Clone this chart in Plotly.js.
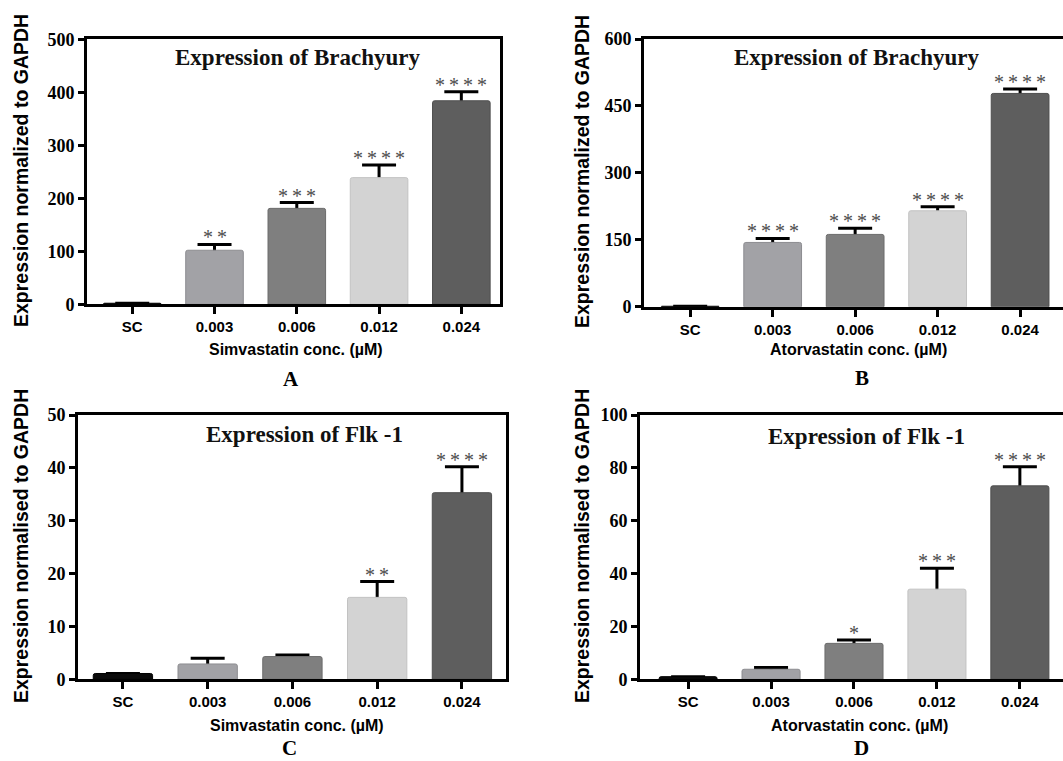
<!DOCTYPE html>
<html>
<head>
<meta charset="utf-8">
<script src="https://cdn.plot.ly/plotly-3.0.1.min.js"></script>
<style>html,body{margin:0;padding:0;background:#fff;}#chart{width:1063px;height:761px;}</style>
</head>
<body>
<div id="chart"></div>
<script>
// ---- data ----
const categories = ['SC', '0.003', '0.006', '0.012', '0.024'];

const simBrachyMean = [2, 102, 181, 239, 384];
const simBrachyErr  = [0, 11, 11, 24, 17];
const simBrachyStars = ['', '**', '***', '****', '****'];

const atorBrachyMean = [1, 144, 162, 215, 478];
const atorBrachyErr  = [0, 9, 14, 9, 10];
const atorBrachyStars = ['', '****', '****', '****', '****'];

const simFlkMean = [1.1, 2.9, 4.3, 15.5, 35.3];
const simFlkErr  = [0, 1.1, 0.3, 3.0, 4.9];
const simFlkStars = ['', '', '', '**', '****'];

const atorFlkMean = [1.0, 3.8, 13.6, 34.1, 73.2];
const atorFlkErr  = [0, 0.7, 1.3, 7.9, 7.2];
const atorFlkStars = ['', '', '*', '***', '****'];

const yTicksA = [0, 100, 200, 300, 400, 500];
const yTicksB = [0, 150, 300, 450, 600];
const yTicksC = [0, 10, 20, 30, 40, 50];
const yTicksD = [0, 20, 40, 60, 80, 100];

// ---- styles ----
const barColors = ['#0a0a0a', '#a2a2a6', '#7f7f7f', '#d3d3d3', '#5e5e5e'];
const barLines  = ['#000000', '#8c8c90', '#6c6c6c', '#c2c2c2', '#4e4e4e'];
const W = 1063, H = 761;
const serif = 'Liberation Serif';
const sans = 'Liberation Sans';

const panels = [
  {mean: simBrachyMean, err: simBrachyErr, stars: simBrachyStars, yticks: yTicksA,
   xpx: [87, 500], ypx: [39.3, 304.3], xr: [-0.55, 4.47], mirrorY: true,
   title: 'Expression of Brachyury', tpos: [297, 57],
   ytitle: 'Expression normalized to GAPDH', ytpos: [21, 171],
   xtitle: 'Simvastatin conc. (µM)', xtpos: [296, 350], letter: 'A', lpos: [291, 379]},
  {mean: atorBrachyMean, err: atorBrachyErr, stars: atorBrachyStars, yticks: yTicksB,
   xpx: [644, 1063], ypx: [39, 306.7], xr: [-0.56, 4.52], mirrorY: false,
   title: 'Expression of Brachyury', tpos: [856, 57],
   ytitle: 'Expression normalized to GAPDH', ytpos: [582, 172],
   xtitle: 'Atorvastatin conc. (µM)', xtpos: [858, 350], letter: 'B', lpos: [862, 378]},
  {mean: simFlkMean, err: simFlkErr, stars: simFlkStars, yticks: yTicksC,
   xpx: [78, 506], ypx: [415, 679.3], xr: [-0.53, 4.52], mirrorY: true,
   title: 'Expression of Flk -1', tpos: [304, 434],
   ytitle: 'Expression normalised to GAPDH', ytpos: [21, 546],
   xtitle: 'Simvastatin conc. (µM)', xtpos: [297, 725], letter: 'C', lpos: [289, 748]},
  {mean: atorFlkMean, err: atorFlkErr, stars: atorFlkStars, yticks: yTicksD,
   xpx: [640, 1063], ypx: [415, 679.3], xr: [-0.58, 4.52], mirrorY: false,
   title: 'Expression of Flk -1', tpos: [866, 436],
   ytitle: 'Expression normalised to GAPDH', ytpos: [582, 546],
   xtitle: 'Atorvastatin conc. (µM)', xtpos: [859, 725], letter: 'D', lpos: [861, 748]}
];

const idx = categories.map((c, i) => i);
const traces = [];
const annotations = [];
const layout = {
  width: W, height: H,
  margin: {l: 0, r: 0, t: 0, b: 0},
  paper_bgcolor: '#fff', plot_bgcolor: '#fff',
  showlegend: false, barmode: 'overlay',
  annotations: annotations
};

function px2x(p) { return p / W; }
function px2y(p) { return 1 - p / H; }

panels.forEach((p, k) => {
  const n = k === 0 ? '' : String(k + 1);
  const xa = 'x' + n, ya = 'y' + n;
  // error bars drawn beneath the visible bars, so only the upper half shows
  traces.push({
    type: 'bar', x: idx, y: p.mean, xaxis: xa, yaxis: ya, width: 0.7,
    marker: {color: 'rgba(0,0,0,0)', line: {width: 0}},
    error_y: {type: 'data', array: p.err, visible: true, color: '#000', thickness: 3, width: 17},
    hoverinfo: 'skip'
  });
  traces.push({
    type: 'bar', x: idx, y: p.mean, xaxis: xa, yaxis: ya, width: 0.7,
    marker: {color: barColors, line: {color: barLines, width: 1}, cornerradius: 2},
    hoverinfo: 'x+y'
  });
  layout['xaxis' + n] = {
    domain: [px2x(p.xpx[0]), px2x(p.xpx[1])], anchor: ya,
    range: p.xr, tickmode: 'array', tickvals: idx, ticktext: categories,
    showline: true, linecolor: '#000', linewidth: 3, mirror: true,
    ticks: 'outside', ticklen: 7, tickwidth: 3, tickcolor: '#000',
    showgrid: false, zeroline: false,
    tickfont: {family: sans, size: 15, weight: 700, color: '#000'}
  };
  layout['yaxis' + n] = {
    domain: [px2y(p.ypx[1]), px2y(p.ypx[0])], anchor: xa,
    range: [p.yticks[0], p.yticks[p.yticks.length - 1]],
    tickmode: 'array', tickvals: p.yticks,
    showline: true, linecolor: '#000', linewidth: 3, mirror: p.mirrorY,
    ticks: 'outside', ticklen: 6, tickwidth: 3, tickcolor: '#000',
    showgrid: false, zeroline: false,
    tickfont: {family: serif, size: 18, weight: 700, color: '#000'}
  };
  // significance stars
  p.stars.forEach((s, i) => {
    if (!s) return;
    annotations.push({
      xref: xa, yref: ya, x: idx[i], y: p.mean[i] + p.err[i],
      text: s.split('').join('\u2009'), showarrow: false, yanchor: 'bottom', yshift: -6,
      font: {family: serif, size: 20, color: '#4d4d4d'}
    });
  });
  const paperText = (txt, pos, font, extra) => annotations.push(Object.assign({
    xref: 'paper', yref: 'paper', x: px2x(pos[0]), y: px2y(pos[1]),
    xanchor: 'center', yanchor: 'middle', text: txt, showarrow: false, font: font
  }, extra || {}));
  paperText(p.title, p.tpos, {family: serif, size: 23, weight: 700, color: '#111'});
  paperText(p.ytitle, p.ytpos, {family: sans, size: 19.5, weight: 700, color: '#000'}, {textangle: -90});
  paperText(p.xtitle, p.xtpos, {family: sans, size: 16, weight: 700, color: '#000'});
  paperText(p.letter, p.lpos, {family: serif, size: 21, weight: 700, color: '#000'});
});

Plotly.newPlot('chart', traces, layout, {displayModeBar: false, staticPlot: true});
</script>
</body>
</html>
